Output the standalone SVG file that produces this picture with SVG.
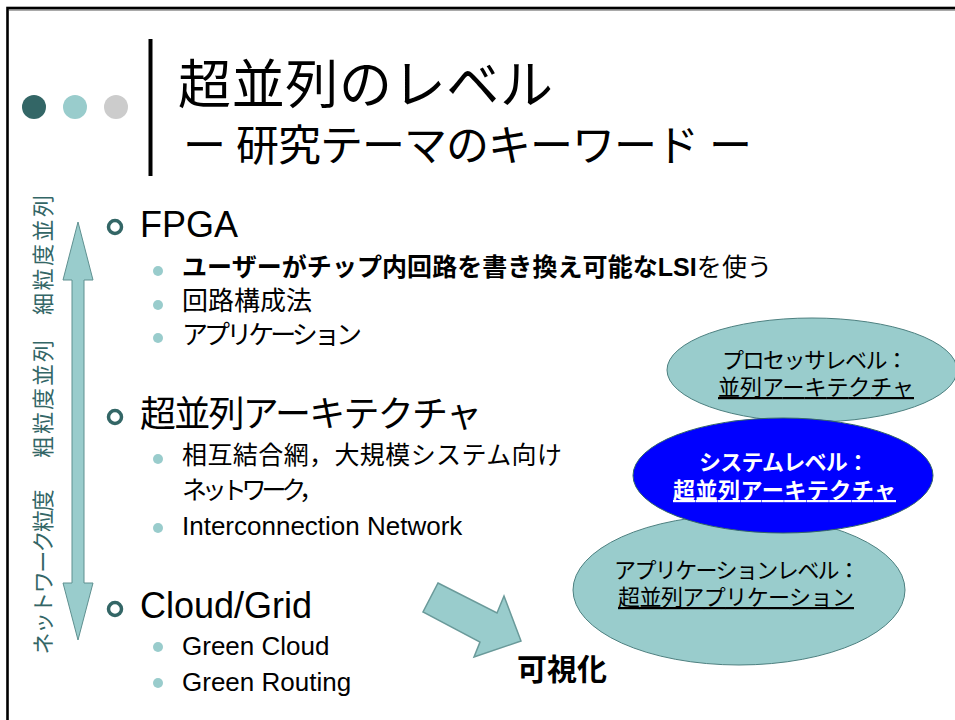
<svg xmlns="http://www.w3.org/2000/svg" width="955" height="720" viewBox="0 0 955 720">
  <style>
    .t { font-family: "Liberation Sans", "Noto Sans CJK JP", sans-serif; fill: #000; }
    .side { font-family: "Noto Sans CJK JP", "Liberation Sans", sans-serif; fill: #336666; font-size: 22px; text-anchor: middle; }
    .ring { fill: none; stroke: #336666; stroke-width: 3.5; }
    .dot { fill: #99cccc; }
    .lvl { fill: #99cccc; stroke: #4d8080; stroke-width: 1; }
    .lt { font-family: "Liberation Sans", "Noto Sans CJK JP", sans-serif; font-size: 22px; fill: #000; }
    .wt { fill: #ffffff; font-weight: bold; }
    .u { text-decoration: underline; }
  </style>
  <rect x="0" y="0" width="955" height="720" fill="#ffffff"/>
  <g id="frame">
    <rect x="7.5" y="8" width="980" height="740" fill="none" stroke="#000" stroke-width="2.6"/>
    <line x1="9" y1="10" x2="955" y2="10" stroke="#555" stroke-width="1"/>
  </g>
  <g id="header">
    <circle cx="34" cy="107" r="12" fill="#336666"/>
    <circle cx="75" cy="107" r="12" fill="#99cccc"/>
    <circle cx="116" cy="107" r="12" fill="#cccccc"/>
    <rect x="148.5" y="39" width="4" height="137" fill="#000"/>
    <text class="t" x="178" y="104" font-size="53" textLength="375">超並列のレベル</text>
    <text class="t" x="183" y="161" font-size="43" textLength="569">ー 研究テーマのキーワード ー</text>
  </g>
  <g id="granularity-axis">
    <text class="side" transform="translate(51,255) rotate(-90)" textLength="120">細粒度並列</text>
    <text class="side" transform="translate(51,399) rotate(-90)" textLength="118">粗粒度並列</text>
    <text class="side" transform="translate(51,572) rotate(-90)" textLength="165">ネットワーク粒度</text>
  </g>
  <g id="connectors">
    <polygon points="78,222 93,280 84,280 84,583 93,583 78,640 63,583 72,583 72,280 63,280" fill="#99cccc" stroke="#5f9090" stroke-width="1"/>
    <polygon points="438,583 497,613 504,596 521,641 474,657 480,642 423,612" fill="#99cccc" stroke="#6a9a9a" stroke-width="1.5"/>
  </g>
  <g id="fpga">
    <circle class="ring" cx="115" cy="227" r="6.5"/>
    <text class="t" x="140" y="237" font-size="36">FPGA</text>
    <circle class="dot" cx="158" cy="271" r="5"/>
    <text class="t" x="182" y="276" font-size="25" textLength="590"><tspan font-weight="bold">ユーザーがチップ内回路を書き換え可能なLSI</tspan>を使う</text>
    <circle class="dot" cx="158" cy="305" r="5"/>
    <text class="t" x="182" y="310" font-size="26">回路構成法</text>
    <circle class="dot" cx="158" cy="338" r="5"/>
    <text class="t" x="182" y="344" font-size="26" textLength="180">アプリケーション</text>
  </g>
  <g id="architecture">
    <circle class="ring" cx="115" cy="417" r="6.5"/>
    <text class="t" x="140" y="427" font-size="36" textLength="342">超並列アーキテクチャ</text>
    <circle class="dot" cx="158" cy="459" r="5"/>
    <text class="t" x="182" y="464" font-size="25" textLength="380">相互結合網，大規模システム向け</text>
    <text class="t" x="182" y="499" font-size="25" textLength="142">ネットワーク，</text>
    <circle class="dot" cx="158" cy="528" r="5"/>
    <text class="t" x="182" y="535" font-size="26">Interconnection Network</text>
  </g>
  <g id="cloud">
    <circle class="ring" cx="115" cy="609" r="6.5"/>
    <text class="t" x="140" y="618" font-size="36">Cloud/Grid</text>
    <circle class="dot" cx="158" cy="647" r="5"/>
    <text class="t" x="182" y="655" font-size="26">Green Cloud</text>
    <circle class="dot" cx="158" cy="683" r="5"/>
    <text class="t" x="182" y="691" font-size="26">Green Routing</text>
  </g>
  <g id="processor-level">
    <ellipse class="lvl" cx="812" cy="370" rx="145" ry="52"/>
    <text class="lt" x="722" y="368" textLength="186">プロセッサレベル：</text>
    <text class="lt u" x="718" y="395" textLength="196">並列アーキテクチャ</text>
  </g>
  <g id="application-level">
    <ellipse class="lvl" cx="739" cy="590" rx="166" ry="75"/>
    <text class="lt" x="614" y="578" textLength="246">アプリケーションレベル：</text>
    <text class="lt u" x="618" y="605" textLength="236">超並列アプリケーション</text>
  </g>
  <g id="system-level">
    <ellipse cx="783" cy="475.5" rx="150" ry="57.5" fill="#0000ff" stroke="#336666" stroke-width="1"/>
    <text class="lt wt" x="699" y="470" textLength="170">システムレベル：</text>
    <text class="lt wt u" x="673" y="498" textLength="223">超並列アーキテクチャ</text>
  </g>
  <g id="visualize">
    <text class="t" x="517" y="680" font-size="30" font-weight="bold">可視化</text>
  </g>
</svg>
